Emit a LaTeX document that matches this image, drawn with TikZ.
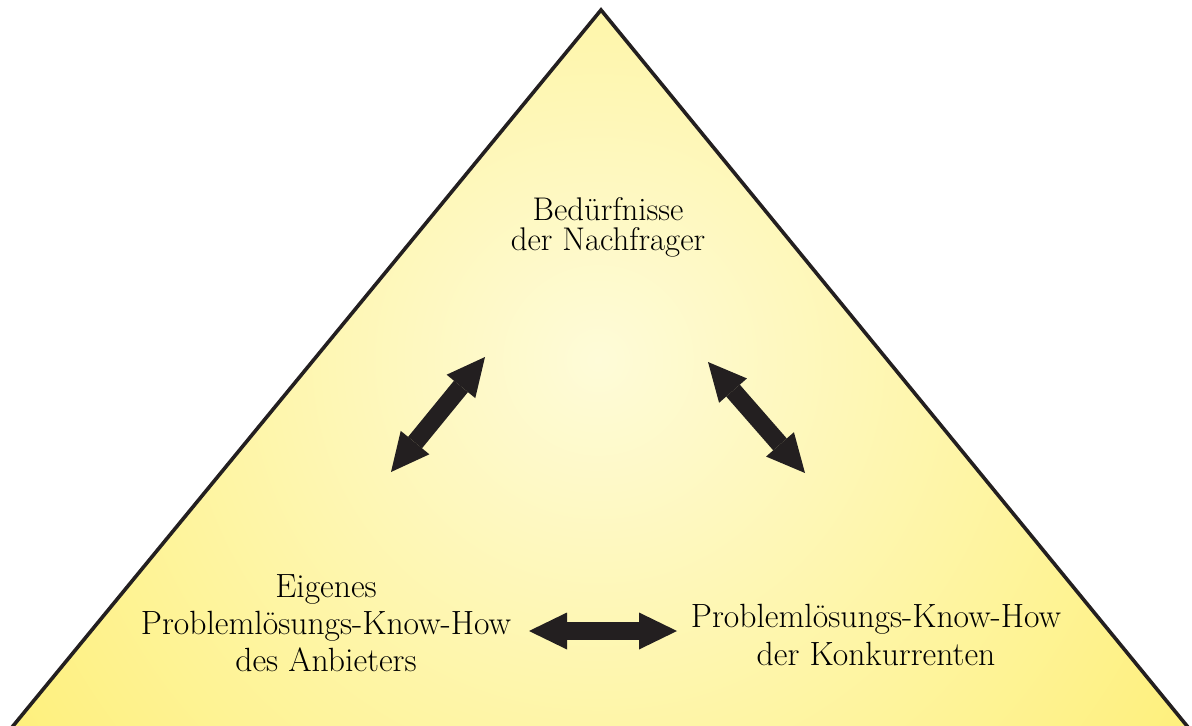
\documentclass[tikz,border=0pt]{standalone}
\usetikzlibrary{arrows.meta}
\definecolor{ink}{HTML}{231F20}
\definecolor{yin}{HTML}{FEFBD8}
\definecolor{yout}{HTML}{FEF07C}
\begin{document}
\begin{tikzpicture}[x=0.5pt,y=-0.5pt,
  lbl/.style={font=\fontsize{16.8}{18.6}\selectfont, align=center, inner sep=0pt, text=black},
  dbl/.style={draw=ink, line width=9pt,
    {Triangle[length=19pt,width=18.5pt,line width=0pt,fill=ink]}-{Triangle[length=19pt,width=18.5pt,line width=0pt,fill=ink]}}]
\useasboundingbox (0,0) rectangle (1192,726);
\begin{scope}
  \clip (0,0) rectangle (1192,726);
  \clip (601,10) -- (1.5,740) -- (1198.5,740) -- cycle;
  \shade[inner color=yin, outer color=yout] (598,360) circle (350pt);
\end{scope}
\begin{scope}
  \clip (0,0) rectangle (1192,726);
  \draw[ink, line width=1.8pt, line join=miter] (1.5,740) -- (601,10) -- (1198.5,740);
\end{scope}

\node[lbl, font=\fontsize{16.4}{15}\selectfont] (need) at (608,227) {Bedürfnisse\\der Nachfrager};
\node[lbl] (own) at (326,623) {Eigenes\\Problemlösungs-Know-How\\des Anbieters};
\node[lbl] (comp) at (876,635) {Problemlösungs-Know-How\\der Konkurrenten};

\coordinate (l1) at (391,472);
\coordinate (l2) at (485,357);
\coordinate (r1) at (708,362);
\coordinate (r2) at (805,473);
\coordinate (h1) at (529,631);
\coordinate (h2) at (677,631);
\draw[dbl] (l1) -- (l2);
\draw[dbl] (r1) -- (r2);
\draw[dbl] (h1) -- (h2);
\end{tikzpicture}
\end{document}
